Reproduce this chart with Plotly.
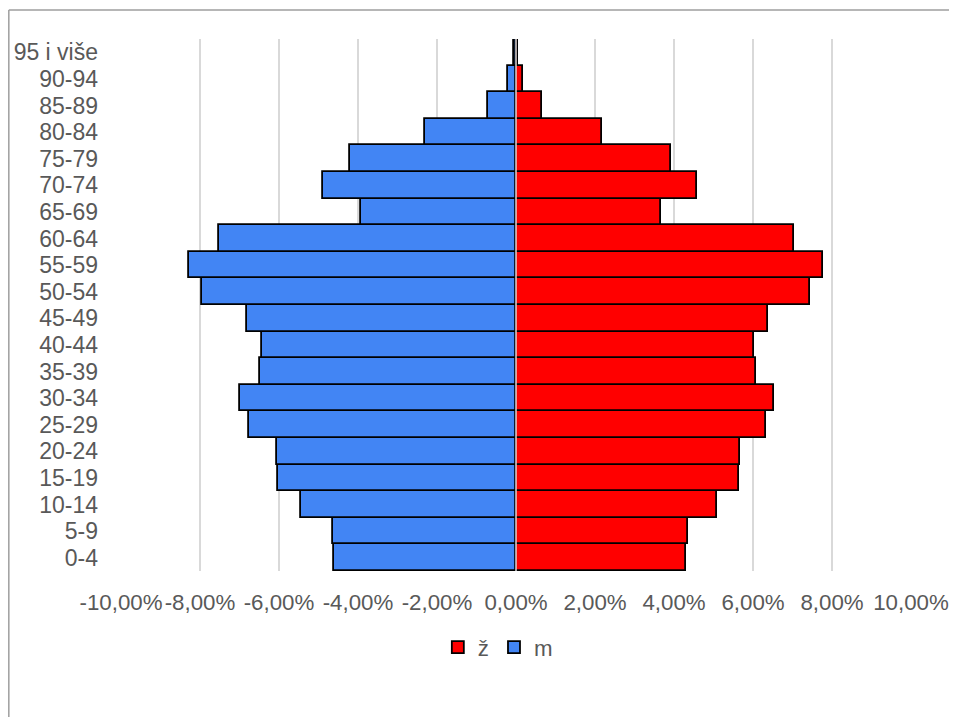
import plotly.graph_objects as go

age_groups = ["0-4", "5-9", "10-14", "15-19", "20-24", "25-29", "30-34", "35-39",
              "40-44", "45-49", "50-54", "55-59", "60-64", "65-69", "70-74",
              "75-79", "80-84", "85-89", "90-94", "95 i više"]

# percent of population
zene = [4.31, 4.35, 5.10, 5.64, 5.66, 6.34, 6.54, 6.08, 6.02, 6.38, 7.44, 7.76,
        7.03, 3.68, 4.57, 3.93, 2.17, 0.65, 0.18, 0.05]
muski = [-4.60, -4.64, -5.44, -6.03, -6.04, -6.76, -6.99, -6.49, -6.42, -6.80,
         -7.96, -8.29, -7.51, -3.92, -4.89, -4.20, -2.30, -0.70, -0.20, -0.05]

tick_vals = [-10, -8, -6, -4, -2, 0, 2, 4, 6, 8, 10]
tick_text = ["-10,00%", "-8,00%", "-6,00%", "-4,00%", "-2,00%", "0,00%",
             "2,00%", "4,00%", "6,00%", "8,00%", "10,00%"]

font_family = "Liberation Sans, Arial, sans-serif"
txt_color = "#595959"
fsize = 22.3

fig = go.Figure()
fig.add_trace(go.Bar(
    y=age_groups, x=zene, orientation="h", name="ž",
    marker=dict(color="#ff0000", line=dict(color="#000000", width=1.8)),
))
fig.add_trace(go.Bar(
    y=age_groups, x=muski, orientation="h", name="m",
    marker=dict(color="#4285f4", line=dict(color="#000000", width=1.8)),
))

fig.update_layout(
    width=957, height=717,
    margin=dict(l=113, r=54, t=31, b=154),
    paper_bgcolor="white", plot_bgcolor="white",
    barmode="relative", bargap=0,
    font=dict(family=font_family, size=fsize, color=txt_color),
    showlegend=True,
    legend=dict(orientation="h", x=0.477, xanchor="center", y=-0.143,
                yanchor="middle", font=dict(size=fsize, color=txt_color),
                traceorder="normal", itemwidth=30),
    xaxis=dict(range=[-10, 10], tickmode="array", tickvals=tick_vals,
               ticktext=tick_text, tickangle=0, automargin=False,
               showgrid=True, gridcolor="#d9d9d9", gridwidth=1.5,
               zeroline=False, showline=False, ticks="",
               ticklabelstandoff=16,
               tickfont=dict(size=fsize, color=txt_color), fixedrange=True),
    yaxis=dict(type="category", tickmode="array", tickvals=age_groups,
               ticktext=age_groups, tickangle=0, automargin=False,
               showgrid=False, zeroline=False, showline=False,
               ticks="", ticklabelstandoff=22,
               tickfont=dict(size=23, color=txt_color), fixedrange=True),
    shapes=[
        dict(type="line", xref="x", yref="paper", x0=0, x1=0, y0=0, y1=1,
             line=dict(color="#d9d9d9", width=1.5), layer="above"),
        dict(type="line", xref="paper", yref="paper", x0=-0.142, x1=1.1,
             y0=1.0545, y1=1.0545, line=dict(color="#9e9e9e", width=1.5)),
        dict(type="line", xref="paper", yref="paper", x0=-0.142, x1=-0.142,
             y0=1.0545, y1=-0.4, line=dict(color="#9e9e9e", width=1.5)),
    ],
)

fig.write_html("out.html")
